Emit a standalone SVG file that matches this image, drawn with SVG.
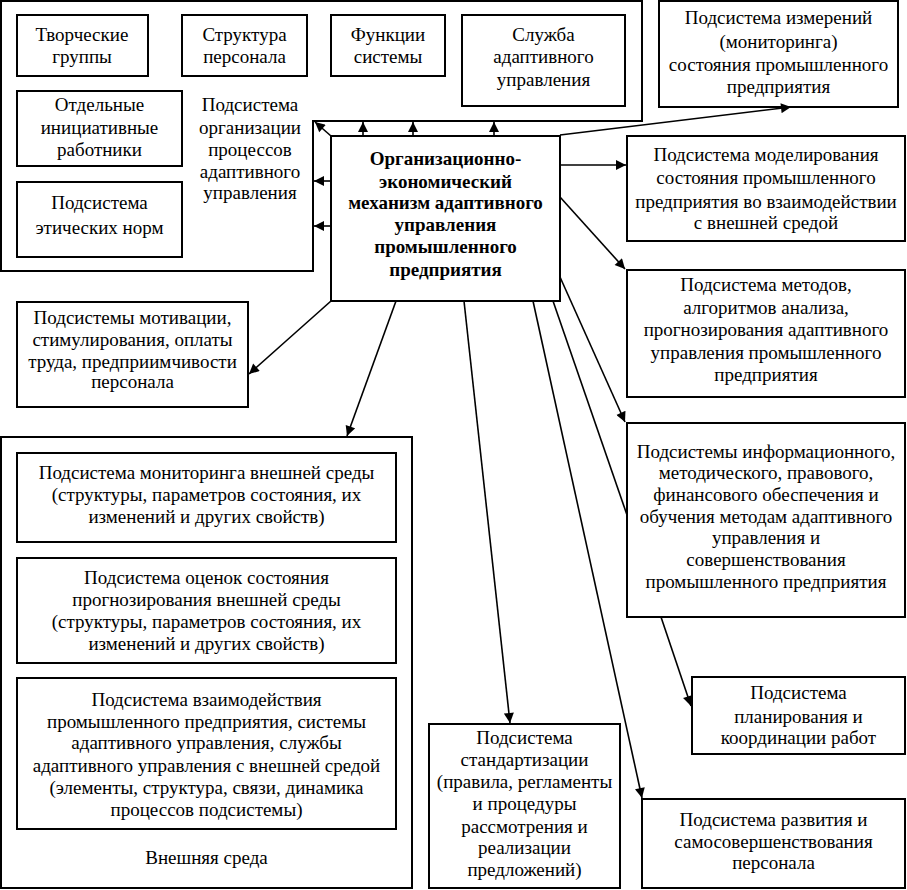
<svg xmlns="http://www.w3.org/2000/svg" width="907" height="890" viewBox="0 0 907 890">
<defs>
<style>
.b{fill:#fff;stroke:#000;stroke-width:2}
.c{fill:none;stroke:#000;stroke-width:2}
text{font-family:"Liberation Serif","Times New Roman",serif;font-size:19px;fill:#000;text-anchor:middle}
.bold{font-weight:bold;font-size:19px}
.ln{stroke:#000;stroke-width:1.6;fill:none}
</style>
<marker id="ah" viewBox="0 0 10 10" refX="10" refY="5" markerWidth="13" markerHeight="10" orient="auto" markerUnits="userSpaceOnUse"><path d="M0,0 L10,5 L0,10 z" fill="#000"/></marker>
</defs>
<rect width="907" height="890" fill="#fff"/>

<g id="org-container">
<path class="c" d="M1,1 H642 V121 H313 V271 H1 Z"/>
<text x="250" y="111">Подсистема</text>
<text x="250" y="134">организации</text>
<text x="250" y="156">процессов</text>
<text x="250" y="178">адаптивного</text>
<text x="250" y="199">управления</text>
</g>
<g id="creative"><rect class="b" x="17" y="15" width="131" height="61"/><text x="82" y="41">Творческие</text><text x="82" y="63">группы</text></g>
<g id="structure"><rect class="b" x="182" y="15" width="125" height="61"/><text x="244.5" y="41">Структура</text><text x="244.5" y="63">персонала</text></g>
<g id="functions"><rect class="b" x="331" y="15" width="114" height="61"/><text x="388" y="41">Функции</text><text x="388" y="63">системы</text></g>
<g id="service"><rect class="b" x="462" y="15" width="163" height="91"/><text x="543.5" y="41">Служба</text><text x="543.5" y="63">адаптивного</text><text x="543.5" y="86">управления</text></g>
<g id="initiative"><rect class="b" x="17" y="91" width="165" height="75"/><text x="99.5" y="111">Отдельные</text><text x="99.5" y="134">инициативные</text><text x="99.5" y="156">работники</text></g>
<g id="ethics"><rect class="b" x="17" y="182" width="165" height="75"/><text x="99.5" y="209">Подсистема</text><text x="99.5" y="234">этических норм</text></g>

<g id="center"><rect class="b" x="331" y="136" width="229" height="165"/>
<text class="bold" x="445.5" y="165">Организационно-</text>
<text class="bold" x="445.5" y="188">экономический</text>
<text class="bold" x="445.5" y="209">механизм адаптивного</text>
<text class="bold" x="445.5" y="231">управления</text>
<text class="bold" x="445.5" y="253">промышленного</text>
<text class="bold" x="445.5" y="276">предприятия</text>
</g>

<g id="measure"><rect class="b" x="659" y="1" width="239" height="106"/>
<text x="778.5" y="24">Подсистема измерений</text><text x="778.5" y="48">(мониторинга)</text><text x="778.5" y="71">состояния промышленного</text><text x="778.5" y="93">предприятия</text></g>

<g id="modeling"><rect class="b" x="627" y="136" width="278" height="105"/>
<text x="766" y="161">Подсистема моделирования</text><text x="766" y="184">состояния промышленного</text><text x="766" y="208">предприятия во взаимодействии</text><text x="766" y="229">с внешней средой</text></g>

<g id="methods"><rect class="b" x="627" y="270" width="278" height="127"/>
<text x="766" y="291">Подсистема методов,</text><text x="766" y="314">алгоритмов анализа,</text><text x="766" y="336">прогнозирования адаптивного</text><text x="766" y="359">управления промышленного</text><text x="766" y="381">предприятия</text></g>

<g id="info"><rect class="b" x="627" y="423" width="278" height="194"/>
<text x="766" y="458">Подсистемы информационного,</text><text x="766" y="479">методического, правового,</text><text x="766" y="501">финансового обеспечения и</text><text x="766" y="523">обучения методам адаптивного</text><text x="766" y="544">управления и</text><text x="766" y="566">совершенствования</text><text x="766" y="588">промышленного предприятия</text></g>

<g id="planning"><rect class="b" x="692" y="677" width="213" height="77"/>
<text x="798.5" y="699">Подсистема</text><text x="798.5" y="723">планирования и</text><text x="798.5" y="744">координации работ</text></g>

<g id="development"><rect class="b" x="642" y="799" width="263" height="89"/>
<text x="773.5" y="826">Подсистема развития и</text><text x="773.5" y="848">самосовершенствования</text><text x="773.5" y="869">персонала</text></g>

<g id="standard"><rect class="b" x="429" y="724" width="191" height="164"/>
<text x="524.5" y="744">Подсистема</text><text x="524.5" y="766">стандартизации</text><text x="524.5" y="788">(правила, регламенты</text><text x="524.5" y="810">и процедуры</text><text x="524.5" y="833">рассмотрения и</text><text x="524.5" y="854">реализации</text><text x="524.5" y="876">предложений)</text></g>

<g id="motivation"><rect class="b" x="17" y="302" width="231" height="105"/>
<text x="132.5" y="324">Подсистемы мотивации,</text><text x="132.5" y="346">стимулирования, оплаты</text><text x="132.5" y="368">труда, предприимчивости</text><text x="132.5" y="388">персонала</text></g>

<g id="external"><rect class="b" x="1" y="437" width="411" height="451"/>
<text x="206.5" y="864">Внешняя среда</text></g>
<g id="ext-monitoring"><rect class="b" x="17" y="453" width="379" height="89"/>
<text x="206.5" y="479">Подсистема мониторинга внешней среды</text><text x="206.5" y="501">(структуры, параметров состояния, их</text><text x="206.5" y="523">изменений и других свойств)</text></g>
<g id="ext-assessment"><rect class="b" x="17" y="558" width="379" height="105"/>
<text x="206.5" y="584">Подсистема оценок состояния</text><text x="206.5" y="606">прогнозирования внешней среды</text><text x="206.5" y="628">(структуры, параметров состояния, их</text><text x="206.5" y="650">изменений и других свойств)</text></g>
<g id="ext-interaction"><rect class="b" x="17" y="678" width="379" height="151"/>
<text x="206.5" y="706">Подсистема взаимодействия</text><text x="206.5" y="728">промышленного предприятия, системы</text><text x="206.5" y="749">адаптивного управления, службы</text><text x="206.5" y="772">адаптивного управления с внешней средой</text><text x="206.5" y="794">(элементы, структура, связи, динамика</text><text x="206.5" y="816">процессов подсистемы)</text></g>

<g id="connectors">
<line class="ln" x1="331" y1="136" x2="315" y2="122" marker-end="url(#ah)"/>
<line class="ln" x1="363" y1="136" x2="363" y2="122" marker-end="url(#ah)"/>
<line class="ln" x1="413" y1="136" x2="413" y2="122" marker-end="url(#ah)"/>
<line class="ln" x1="494" y1="136" x2="494" y2="122" marker-end="url(#ah)"/>
<line class="ln" x1="331" y1="181" x2="314" y2="181" marker-end="url(#ah)"/>
<line class="ln" x1="331" y1="226" x2="314" y2="226" marker-end="url(#ah)"/>
<line class="ln" x1="560" y1="135" x2="791" y2="107" marker-end="url(#ah)"/>
<line class="ln" x1="560" y1="165" x2="626" y2="165" marker-end="url(#ah)"/>
<line class="ln" x1="560" y1="197" x2="625" y2="269" marker-end="url(#ah)"/>
<line class="ln" x1="560" y1="277" x2="625" y2="422" marker-end="url(#ah)"/>
<line class="ln" x1="553" y1="301" x2="627" y2="515"/>
<line class="ln" x1="533" y1="301" x2="642" y2="798" marker-end="url(#ah)"/>
<line class="ln" x1="464" y1="301" x2="510" y2="723" marker-end="url(#ah)"/>
<line class="ln" x1="396" y1="301" x2="347" y2="436" marker-end="url(#ah)"/>
<line class="ln" x1="331" y1="301" x2="249" y2="374" marker-end="url(#ah)"/>
<line class="ln" x1="661" y1="617" x2="691" y2="706" marker-end="url(#ah)"/>
</g>
</svg>
